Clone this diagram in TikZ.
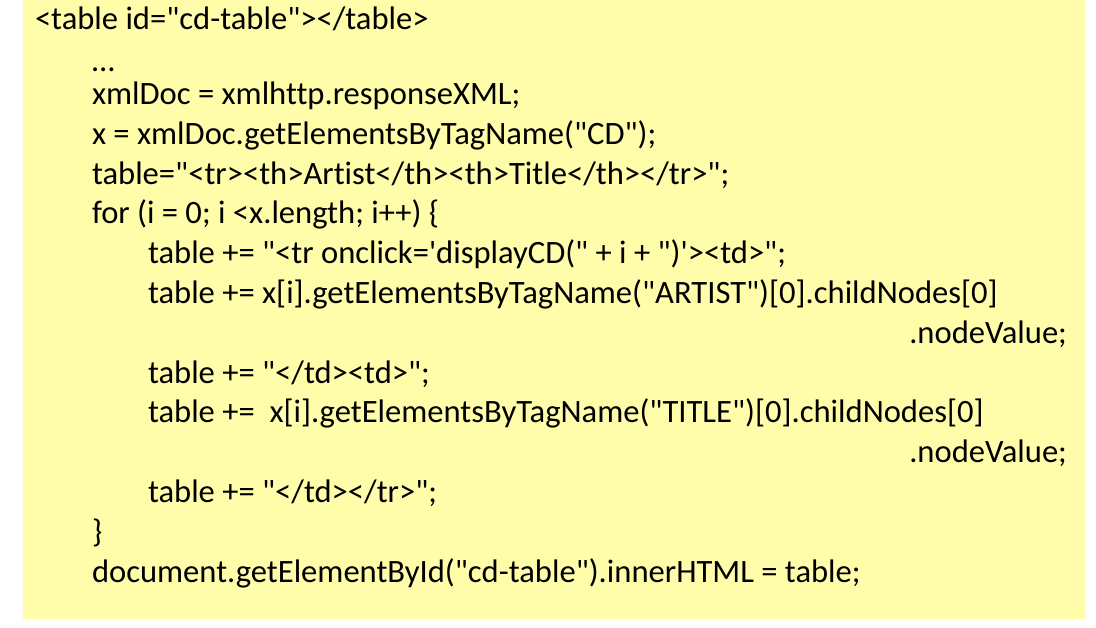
\documentclass[tikz,border=0pt]{standalone}
\usepackage{fontspec}
\setmainfont{Carlito}[Ligatures={TeXOff,CommonOff}]
\definecolor{codebg}{RGB}{255,252,170}
\begin{document}
\begin{tikzpicture}[x=1pt,y=-1pt,
  codeline/.style={anchor=base west,inner sep=0pt,outer sep=0pt,font=\fontsize{32.6}{39.8}\selectfont,text=black},
  coderight/.style={codeline,anchor=base east}]
\useasboundingbox (0,0) rectangle (1096,628);
\fill[codebg] (23,0) rectangle (1085,619);
\node[codeline] (l1) at (35,29.5) {<table id="cd-table"></table>};
\node[codeline] (l2) at (92,72) {…};
\node[codeline] (l3) at (92,104.5) {xmlDoc = xmlhttp.responseXML;};
\node[codeline] (l4) at (92,144.3) {x = xmlDoc.getElementsByTagName("CD");};
\node[codeline] (l5) at (92,184.1) {table="<tr><th>Artist</th><th>Title</th></tr>";};
\node[codeline] (l6) at (92,223.9) {for (i = 0; i <x.length; i++) \{};
\node[codeline] (l7) at (148,263.7) {table += "<tr onclick='displayCD(" + i + ")'><td>";};
\node[codeline] (l8) at (148,303.5) {table += x[i].getElementsByTagName("ARTIST")[0].childNodes[0]};
\node[coderight] (l9) at (1067,343.3) {.nodeValue;};
\node[codeline] (l10) at (148,383.1) {table += "</td><td>";};
\node[codeline] (l11) at (148,422.9) {table += \ x[i].getElementsByTagName("TITLE")[0].childNodes[0]};
\node[coderight] (l12) at (1067,462.7) {.nodeValue;};
\node[codeline] (l13) at (148,502.5) {table += "</td></tr>";};
\node[codeline] (l14) at (92,542.3) {\}};
\node[codeline] (l15) at (92,582.1) {document.getElementById("cd-table").innerHTML = table;};
\end{tikzpicture}
\end{document}
